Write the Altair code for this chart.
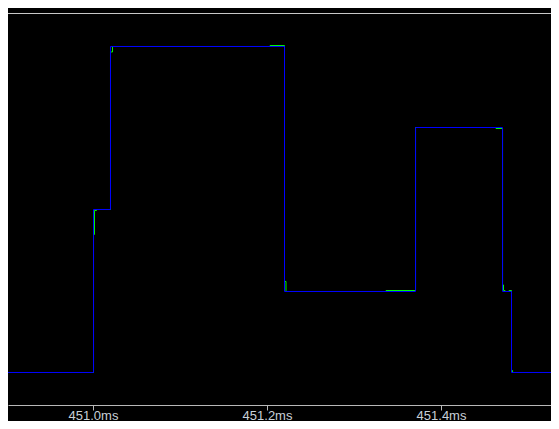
import altair as alt
import pandas as pd

# time axis in ms, signal levels in arbitrary units
tick_values = [451.0, 451.2, 451.4]
x_domain = [450.9023, 451.5264]
y_domain = [-0.3988, 4.4110]

blue_time = [450.9023, 451.0006, 451.0201, 451.2201, 451.3707, 451.4707, 451.4810, 451.5264]
blue_level = [0, 2.0, 4.0, 0.994, 3.006, 0.994, 0, 0]

green_time = [450.9023, 451.0006, 451.0017, 451.0040, 451.0201, 451.0224, 451.2035,
              451.2201, 451.2218, 451.3368, 451.3707, 451.4632, 451.4707, 451.4718,
              451.4736, 451.4782, 451.4810, 451.4822, 451.5264]
green_level = [0, 1.693, 1.988, 2.0, 3.933, 4.0, 4.012, 1.117, 0.994, 1.006, 3.006,
               2.994, 1.074, 1.006, 0.994, 1.006, 0.025, 0, 0]

blue_df = pd.DataFrame({"t": blue_time, "v": blue_level})
green_df = pd.DataFrame({"t": green_time, "v": green_level})

x_enc = alt.X(
    "t:Q",
    scale=alt.Scale(domain=x_domain, nice=False, zero=False),
    axis=alt.Axis(
        values=tick_values,
        labelExpr="format(datum.value, '.1f') + 'ms'",
        title=None,
        grid=False,
        domainColor="#b8b8b8",
        tickColor="#b8b8b8",
        tickSize=5,
        labelPadding=9,
        labelBaseline="alphabetic",
        labelColor="#c8d0d8",
        labelFont="Liberation Sans",
        labelFontSize=13,
        labelFlush=False,
        labelOverlap=False,
    ),
)
y_enc = alt.Y("v:Q", scale=alt.Scale(domain=y_domain, nice=False, zero=False), axis=None)

green = alt.Chart(green_df).mark_line(
    color="#00ff00", strokeWidth=1, interpolate="step-after"
).encode(x=x_enc, y=y_enc)

blue = alt.Chart(blue_df).mark_line(
    color="#0000ff", strokeWidth=1, interpolate="step-after"
).encode(x=x_enc, y=y_enc)

top_line = alt.Chart(pd.DataFrame({"a": [0]})).mark_rule(
    color="#c8c8c8", strokeWidth=1
).encode(x=alt.value(0), x2=alt.value(543), y=alt.value(0.5))

chart = (
    alt.layer(green, blue, top_line)
    .properties(
        width=543,
        height=392,
        padding={"left": 0, "right": 0, "top": 5, "bottom": 16},
        autosize=alt.AutoSizeParams(type="none"),
        background="#000000",
    )
    .configure_view(stroke=None)
)

chart.save("out.html", embed_options={"renderer": "svg", "actions": False})
